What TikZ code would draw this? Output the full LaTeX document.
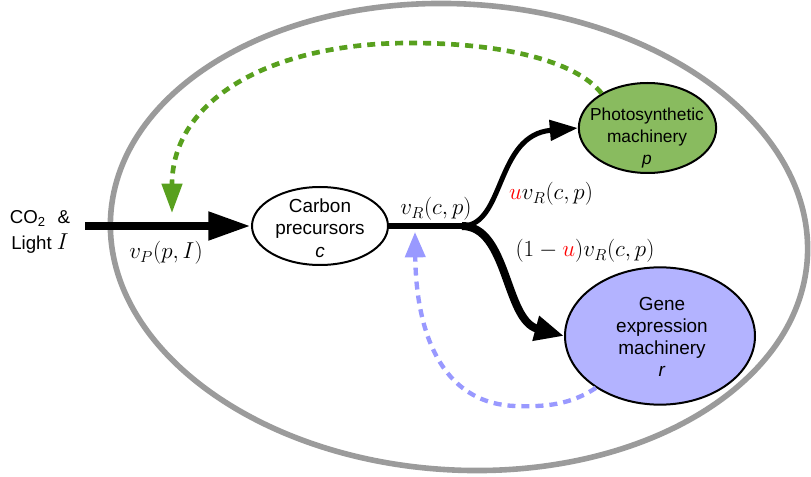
\documentclass[tikz,border=0pt]{standalone}
\usepackage[no-math]{fontspec}
\setmainfont{Liberation Sans}
\usetikzlibrary{arrows.meta,shapes.geometric}

\definecolor{cellgray}{RGB}{155,155,155}
\definecolor{photofill}{RGB}{137,187,95}
\definecolor{photodash}{RGB}{88,160,30}
\definecolor{genefill}{RGB}{179,179,255}
\definecolor{genedash}{RGB}{153,153,255}

\tikzset{every picture/.style={line width=0.75pt}}
\tikzset{
  pool/.style={ellipse, draw=black, line width=1.5pt, inner sep=0pt},
  pooltext/.style={align=center, inner sep=0pt, font=\fontsize{14.2}{17}\selectfont},
  feedback/.style={line width=3.5pt, dash pattern=on 6pt off 4.5pt},
  rate/.style={inner sep=0pt, font=\fontsize{18}{20}\selectfont}
}

\begin{document}
\begin{tikzpicture}[x=0.75pt,y=0.75pt,yscale=-1,xscale=1]
\useasboundingbox (0,0) rectangle (811,477);

%Shape: Ellipse [cell]
\draw [color=cellgray, line width=4.2pt, rotate around={3.5:(459,237)}] (459,237) ellipse [x radius=349, y radius=233];

%Shape: Ellipse [carbon precursors]
\node [pool, fill=white, minimum width=102pt, minimum height=58.5pt] (carbon) at (320,226) {};
% Text Node
\node [pooltext] (carbontext) at (320,228) {Carbon\\precursors\\\textit{c}};
%Shape: Ellipse [photosynthetic machinery]
\node [pool, fill=photofill, minimum width=103pt, minimum height=67.5pt] (photo) at (647.5,128) {};
% Text Node
\node [pooltext, font=\fontsize{13}{16.5}\selectfont] (phototext) at (647,138) {Photosynthetic\\machinery\\\textit{p}};
%Shape: Ellipse [gene expression machinery]
\node [pool, fill=genefill, minimum width=142.5pt, minimum height=103pt] (gene) at (660,336) {};
% Text Node
\node [pooltext, font=\fontsize{14.2}{16.5}\selectfont] (genetext) at (662,337) {Gene\\expression\\machinery\\\textit{r}};

% Text Node
\node [align=center, inner sep=0pt, font=\fontsize{14}{19}\selectfont] (input) at (40,232) {CO\textsubscript{2}\hspace{9pt}\&\\Light {\fontsize{17}{19}\selectfont$I$}};

\coordinate (inlet) at (85,226);
\coordinate (split) at (462,226);
\coordinate (vPin) at (172,213);
\coordinate (vRin) at (415,232);

%Straight Lines [uptake]
\draw [line width=6.5pt, -{Triangle[length=32pt,width=20pt]}] (inlet) -- (carbon.west);
%Curve Lines [flux split]
\draw [line width=5pt] (carbon.east) -- (split);
\draw [line width=3.75pt, -{Triangle[length=21pt,width=15pt]}] (split) .. controls (505,226) and (495,135) .. (photo.west);
\draw [line width=6pt, -{Triangle[length=22pt,width=18pt]}] (split) .. controls (508,226) and (505,320) .. (gene.west);

%Curve Lines [feedback]
\draw [photodash, feedback, -{Triangle[length=22pt,width=15pt]}] (photo.143) .. controls (575,60) and (500,43) .. (410,43) .. controls (270,43) and (172,100) .. (vPin);
\draw [genedash, feedback, line width=3.25pt, -{Triangle[length=19pt,width=15pt]}] (gene.219) .. controls (570,405) and (545,407) .. (515,406) .. controls (440,403) and (416,330) .. (vRin);

% Text Node
\node [rate] (vP) at (166,253) {$v_P(p,I)$};
% Text Node
\node [rate] (vR) at (436,209) {$v_R(c,p)$};
% Text Node
\node [rate] (uvR) at (551,194) {${\color{red}u}v_R(c,p)$};
% Text Node
\node [rate] (ruvR) at (585,251) {$(1-{\color{red}u})v_R(c,p)$};

\end{tikzpicture}
\end{document}
